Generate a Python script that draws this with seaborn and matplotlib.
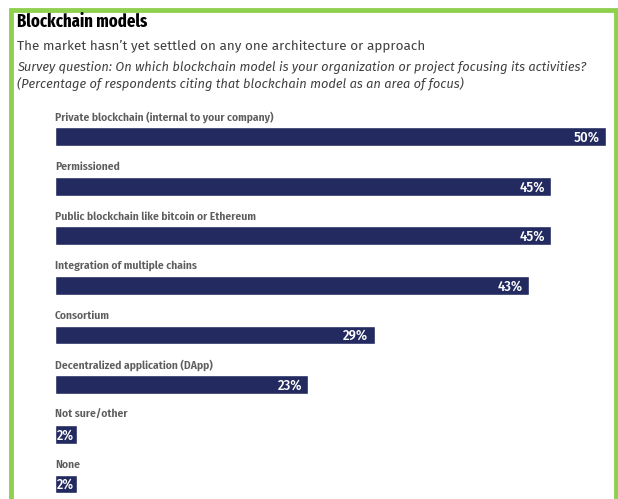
import pandas as pd
import seaborn as sns
import matplotlib.pyplot as plt
from matplotlib.patches import Rectangle

# Chart data
models = [
    "Private blockchain (internal to your company)",
    "Permissioned",
    "Public blockchain like bitcoin or Ethereum",
    "Integration of multiple chains",
    "Consortium",
    "Decentralized application (DApp)",
    "Not sure/other",
    "None",
]
shares = [50, 45, 45, 43, 29, 23, 2, 2]

df = pd.DataFrame({"model": models, "share": shares})

sns.set_theme(style="white")
cond = ["Fira Sans Condensed", "Fira Sans Extra Condensed", "DejaVu Sans"]
xcond = ["Fira Sans Extra Condensed", "Fira Sans Condensed", "DejaVu Sans"]
body = ["Fira Sans", "Open Sans", "DejaVu Sans"]
plt.rcParams["font.family"] = cond

W, H = 618, 499
fig = plt.figure(figsize=(W / 100, H / 100), dpi=100)

# green frame around the panel
fig.patches.append(Rectangle((11 / W, -0.05), (605 / W), (H - 10) / H + 0.05,
                             transform=fig.transFigure, fill=False,
                             edgecolor="#8fd14f", linewidth=3.5))

fig.text(17 / W, 1 - 22 / H, "Blockchain models", fontsize=13, fontweight="bold",
         color="black", va="center", family=xcond)
fig.text(17 / W, 1 - 46 / H, "The market hasn\u2019t yet settled on any one architecture or approach",
         fontsize=9.75, color="#404040", va="center", family=body)
fig.text(17 / W, 1 - 67 / H,
         "Survey question: On which blockchain model is your organization or project focusing its activities?",
         fontsize=9.25, color="#404040", style="italic", va="center", family=body)
fig.text(17 / W, 1 - 84 / H,
         "(Percentage of respondents citing that blockchain model as an area of focus)",
         fontsize=9.25, color="#404040", style="italic", va="center", family=body)

# bar area: x 0..50 -> 55..606 px, rows every ~49.6 px
step = 49.64
top_px = 136.5 - step
ax = fig.add_axes([55 / W, 0, (606 - 55) / W, (H - top_px) / H])
sns.barplot(data=df, x="share", y="model", color="#222a60", width=0.38,
            saturation=1, ax=ax)
ax.set_xlim(0, 50)
ax.set_ylim((H - 136.5) / step, -1)
ax.set_axis_off()

for i, (m, v) in enumerate(zip(models, shares)):
    ax.text(0, i - 0.39, m, fontsize=8.3, fontweight="semibold", color="#5d5d5d",
            va="center", ha="left", family=cond)
    if v < 5:
        # short bars: label starts just inside the bar
        ax.text(0.2, i + 0.02, f"{v}%", fontsize=10, fontweight="medium", color="white",
                va="center", ha="left", family=cond)
    else:
        ax.text(v - 0.55, i + 0.02, f"{v}%", fontsize=10.5, fontweight="medium",
                color="white", va="center", ha="right", family=cond)

fig.savefig("out.png", dpi=100)
